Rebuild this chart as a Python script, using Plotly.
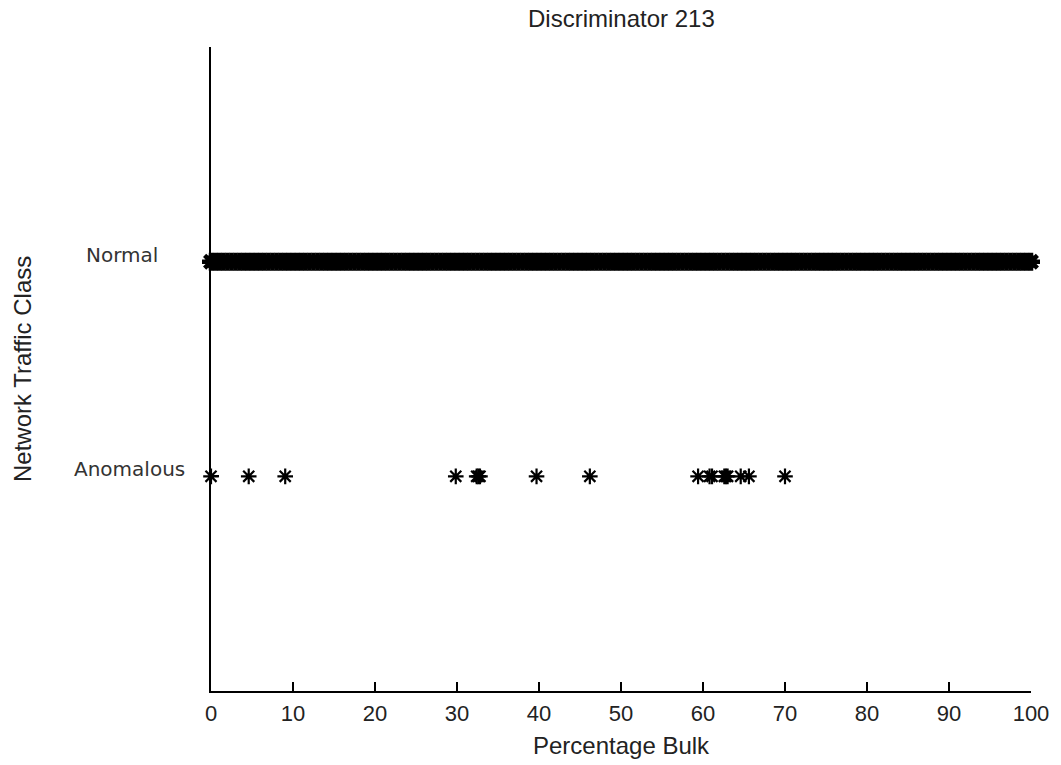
import plotly.graph_objects as go

# Class positions on the vertical axis
class_names = ["Anomalous", "Normal"]
class_levels = [1, 2]

# Percentage bulk of the anomalous connections
anomalous_pct = [0.0, 4.6, 9.05, 29.85, 32.4, 32.6, 32.8, 39.7, 46.2,
                 59.4, 60.8, 61.1, 62.6, 62.8, 63.0, 64.6, 65.6, 70.0]

# Percentage bulk of the normal connections (cover the whole 0-100 range)
normal_pct = [
    0.0, 0.5, 1.0, 1.5, 2.0, 2.5, 3.0, 3.5, 4.0, 4.5, 5.0, 5.5, 6.0, 6.5, 7.0, 7.5, 8.0, 8.5, 9.0, 9.5,
    10.0, 10.5, 11.0, 11.5, 12.0, 12.5, 13.0, 13.5, 14.0, 14.5, 15.0, 15.5, 16.0, 16.5, 17.0, 17.5, 18.0, 18.5, 19.0, 19.5,
    20.0, 20.5, 21.0, 21.5, 22.0, 22.5, 23.0, 23.5, 24.0, 24.5, 25.0, 25.5, 26.0, 26.5, 27.0, 27.5, 28.0, 28.5, 29.0, 29.5,
    30.0, 30.5, 31.0, 31.5, 32.0, 32.5, 33.0, 33.5, 34.0, 34.5, 35.0, 35.5, 36.0, 36.5, 37.0, 37.5, 38.0, 38.5, 39.0, 39.5,
    40.0, 40.5, 41.0, 41.5, 42.0, 42.5, 43.0, 43.5, 44.0, 44.5, 45.0, 45.5, 46.0, 46.5, 47.0, 47.5, 48.0, 48.5, 49.0, 49.5,
    50.0, 50.5, 51.0, 51.5, 52.0, 52.5, 53.0, 53.5, 54.0, 54.5, 55.0, 55.5, 56.0, 56.5, 57.0, 57.5, 58.0, 58.5, 59.0, 59.5,
    60.0, 60.5, 61.0, 61.5, 62.0, 62.5, 63.0, 63.5, 64.0, 64.5, 65.0, 65.5, 66.0, 66.5, 67.0, 67.5, 68.0, 68.5, 69.0, 69.5,
    70.0, 70.5, 71.0, 71.5, 72.0, 72.5, 73.0, 73.5, 74.0, 74.5, 75.0, 75.5, 76.0, 76.5, 77.0, 77.5, 78.0, 78.5, 79.0, 79.5,
    80.0, 80.5, 81.0, 81.5, 82.0, 82.5, 83.0, 83.5, 84.0, 84.5, 85.0, 85.5, 86.0, 86.5, 87.0, 87.5, 88.0, 88.5, 89.0, 89.5,
    90.0, 90.5, 91.0, 91.5, 92.0, 92.5, 93.0, 93.5, 94.0, 94.5, 95.0, 95.5, 96.0, 96.5, 97.0, 97.5, 98.0, 98.5, 99.0, 99.5,
    100.0,
]

x_ticks = [0, 10, 20, 30, 40, 50, 60, 70, 80, 90, 100]

fig = go.Figure()

fig.add_trace(go.Scatter(
    x=normal_pct, y=[class_levels[1]] * len(normal_pct),
    mode="markers",
    marker=dict(symbol="asterisk-open", size=15, color="black",
                line=dict(color="black", width=4.5)),
    cliponaxis=False, showlegend=False, hoverinfo="x",
))

fig.add_trace(go.Scatter(
    x=anomalous_pct, y=[class_levels[0]] * len(anomalous_pct),
    mode="markers",
    marker=dict(symbol="asterisk-open", size=13, color="black",
                line=dict(color="black", width=2.2)),
    cliponaxis=False, showlegend=False, hoverinfo="x",
))

axis_font = dict(family="Liberation Sans, Arial, sans-serif", size=22, color="#222")

fig.update_layout(
    width=1061, height=765,
    margin=dict(l=211, r=26, t=47, b=74),
    paper_bgcolor="white", plot_bgcolor="white",
    xaxis=dict(
        range=[0, 100], tickvals=x_ticks, ticktext=[str(v) for v in x_ticks],
        ticks="inside", ticklen=9, tickwidth=1.5, tickcolor="black",
        showline=True, linecolor="black", linewidth=1.5,
        showgrid=False, zeroline=False, tickfont=axis_font,
        ticklabelstandoff=2,
    ),
    yaxis=dict(
        range=[0, 3], tickvals=[0, 1, 2, 3], ticktext=["", "", "", ""],
        ticks="inside", ticklen=8, tickwidth=1.5, tickcolor="black",
        showline=True, linecolor="black", linewidth=1.5,
        showgrid=False, zeroline=False,
    ),
)

label_font = dict(family="DejaVu Sans, sans-serif", size=20, color="#333")
for name, level, shift in zip(class_names, class_levels, [-24, -51]):
    fig.add_annotation(
        x=0, xref="paper", y=level, yref="y", text=name,
        showarrow=False, xanchor="right", yanchor="middle",
        xshift=shift, yshift=7, font=label_font,
    )

title_font = dict(family="Liberation Sans, Arial, sans-serif", size=24, color="#222")
fig.add_annotation(
    x=0.5, xref="paper", y=1, yref="paper", yshift=29, text="Discriminator 213",
    showarrow=False, xanchor="center", yanchor="middle", font=title_font,
)
fig.add_annotation(
    x=0.5, xref="paper", y=0, yref="paper", text="Percentage Bulk",
    showarrow=False, xanchor="center", yanchor="middle", yshift=-54, font=title_font,
)
fig.add_annotation(
    x=0, xref="paper", y=0.5, yref="paper", text="Network Traffic Class",
    showarrow=False, xanchor="center", yanchor="middle", textangle=-90,
    xshift=-189, font=title_font,
)

fig.write_html("out.html")
